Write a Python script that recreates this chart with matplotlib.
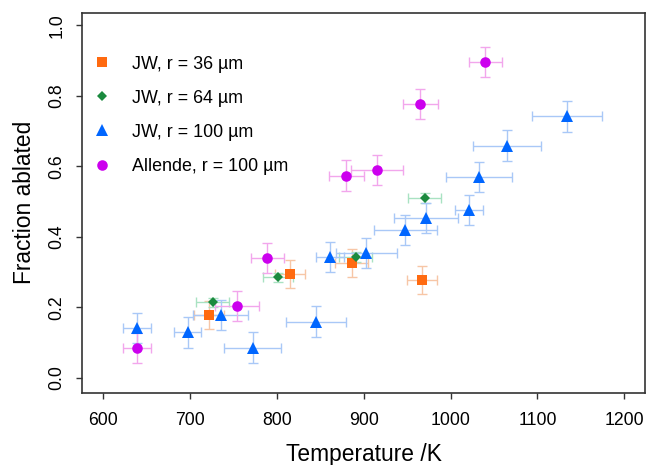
import matplotlib
matplotlib.use("Agg")
import matplotlib.pyplot as plt
from matplotlib.lines import Line2D

plt.rcParams['font.family'] = ['Liberation Sans', 'DejaVu Sans']

# JW, r = 36 um
jw36_T = [722, 815, 886, 967]
jw36_F = [0.179, 0.295, 0.326, 0.278]
jw36_dT = [17, 17, 19, 17]
jw36_dF = [0.04, 0.04, 0.04, 0.04]

# JW, r = 64 um
jw64_T = [726, 801, 891, 970]
jw64_F = [0.214, 0.286, 0.343, 0.510]
jw64_dT = [19, 17, 19, 19]
jw64_dF = [0.013, 0.013, 0.013, 0.014]

# JW, r = 100 um
jw100_T = [639, 697, 735, 772, 845, 861, 903, 948, 972, 1021, 1033, 1065, 1134]
jw100_F = [0.141, 0.129, 0.179, 0.086, 0.160, 0.343, 0.354, 0.420, 0.453, 0.477, 0.571, 0.659, 0.742]
jw100_dT = [16, 15, 32, 33, 35, 16, 35, 36, 37, 16, 38, 39, 40]
jw100_dF = [0.043] * 13

# Allende, r = 100 um
all_T = [639, 754, 789, 880, 915, 965, 1040]
all_F = [0.084, 0.204, 0.341, 0.574, 0.590, 0.777, 0.896]
all_dT = [16, 25, 19, 20, 30, 20, 19]
all_dF = [0.043] * 7

labels = ["JW, r = 36 µm", "JW, r = 64 µm", "JW, r = 100 µm", "Allende, r = 100 µm"]

fig = plt.figure(figsize=(6.46, 4.65), dpi=100)
ax = fig.add_axes([0.1275, 0.1555, 0.871, 0.817])

series = [
    (jw36_T, jw36_F, jw36_dT, jw36_dF, 's', 7.2, '#ff6a10', '#f7c6a6'),
    (jw64_T, jw64_F, jw64_dT, jw64_dF, 'D', 4.6, '#1b8a3e', '#a9e2c2'),
    (jw100_T, jw100_F, jw100_dT, jw100_dF, '^', 8.6, '#0066ff', '#a9c8f7'),
    (all_T, all_F, all_dT, all_dF, 'o', 7.6, '#cc00ee', '#f2a6ec'),
]

handles = []
for (T, F, dT, dF, m, ms, c, ec), lab in zip(series, labels):
    ax.errorbar(T, F, xerr=dT, yerr=dF, fmt='none', ecolor=ec,
                elinewidth=1.0, capsize=3.3, capthick=1.0, zorder=2)
    ax.plot(T, F, linestyle='none', marker=m, markersize=ms, color=c,
            markeredgewidth=0, zorder=3)
    handles.append(Line2D([], [], linestyle='none', marker=m, markersize=ms,
                          color=c, markeredgewidth=0, label=lab))

ax.set_xlim(575.9, 1223.9)
ax.set_ylim(-0.042, 1.036)
ax.set_xticks([600, 700, 800, 900, 1000, 1100, 1200])
ax.set_yticks([0.0, 0.2, 0.4, 0.6, 0.8, 1.0])
ax.set_yticklabels(["0.0", "0.2", "0.4", "0.6", "0.8", "1.0"], rotation=90, va='center')
ax.tick_params(axis='both', direction='out', length=4, width=1.0, colors='#333333',
               labelsize=12.7, labelcolor='black')
ax.tick_params(axis='x', pad=10)
ax.tick_params(axis='y', pad=8)

for s in ax.spines.values():
    s.set_linewidth(1.2)
    s.set_color('#333333')

ax.set_xlabel("Temperature /K", fontsize=16.4, labelpad=10)
ax.set_ylabel("Fraction ablated", fontsize=16.4, labelpad=9)

ax.legend(handles=handles, loc='upper left', frameon=False, fontsize=12.9,
          bbox_to_anchor=(-0.006, 0.92), labelspacing=0.95, handletextpad=1.07,
          handlelength=1.2, borderaxespad=0.3)

fig.savefig("out.png", dpi=100, facecolor='white')
